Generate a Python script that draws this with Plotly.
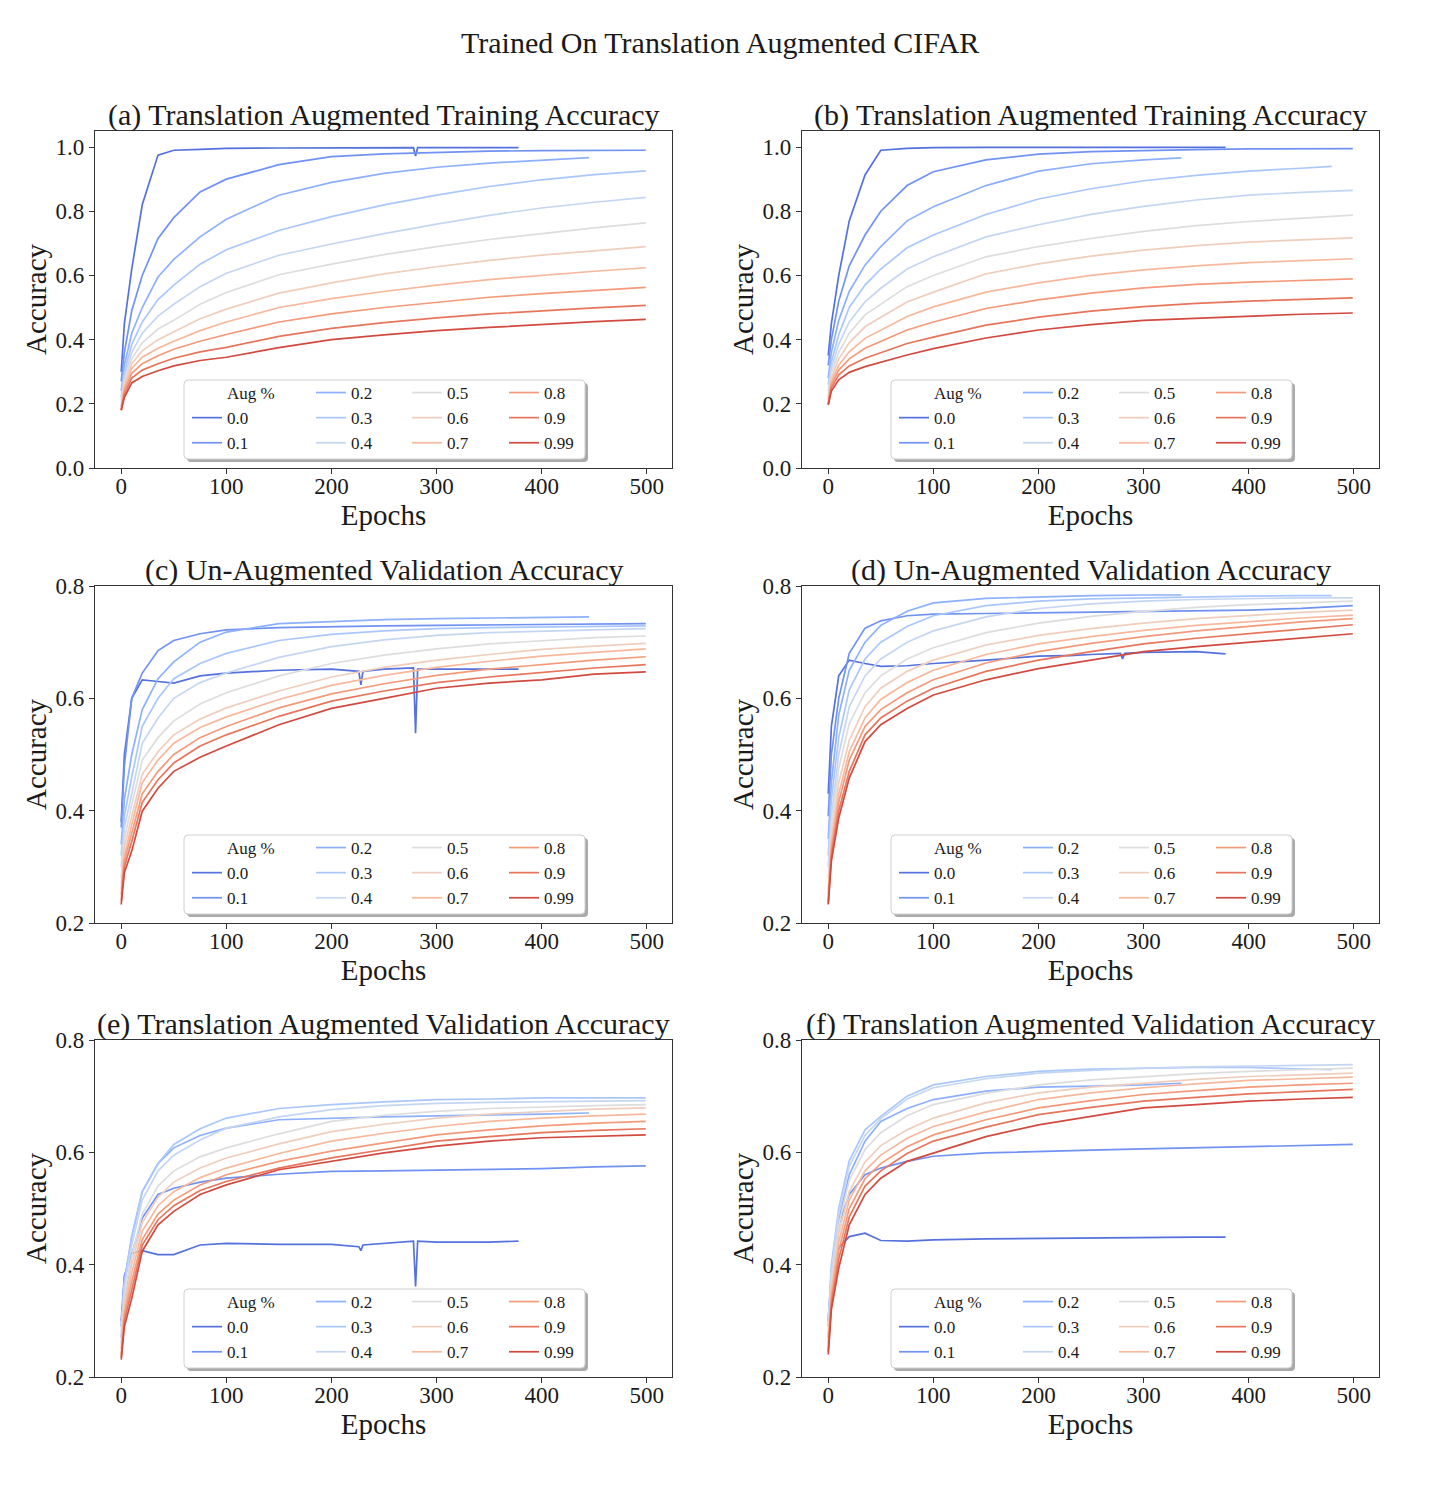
import plotly.graph_objects as go

# ---- data ----
AUG_LEVELS = ["0.0", "0.1", "0.2", "0.3", "0.4", "0.5", "0.6", "0.7", "0.8", "0.9", "0.99"]
LINE_COLORS = ["#5471de", "#7092f3", "#8db0fe", "#aac7fd", "#c5d6f2", "#dddddd",
               "#efcebd", "#f7b89c", "#f49a7b", "#e7755c", "#d24a3f"]

EPOCHS = [0, 3, 10, 20, 35, 50, 75, 100, 150, 200, 250, 300, 350, 400, 450, 499]
# the un-augmented run (0.0) stopped early and has a couple of sharp dips
EPOCHS_ZERO = [0, 3, 10, 20, 35, 50, 75, 100, 150, 200, 226, 228, 230, 250,
               278, 280, 282, 300, 350, 378]
# last epoch of each run (left column model / right column model)
STOP_LEFT = [378, 499, 445, 499, 499, 499, 499, 499, 499, 499, 499]
STOP_RIGHT = [378, 499, 336, 479, 499, 499, 499, 499, 499, 499, 499]

# (a) translation augmented training accuracy
TRAIN_LEFT = [
    [0.3, 0.45, 0.62, 0.82, 0.975, 0.99, 0.993, 0.996, 0.997, 0.998, 0.998, 0.998, 0.998, 0.998, 0.998, 0.972, 0.998, 0.998, 0.998, 0.998],
    [0.27, 0.36, 0.49, 0.6, 0.715, 0.78, 0.86, 0.9, 0.945, 0.97, 0.979, 0.984, 0.987, 0.989, 0.99, 0.99],
    [0.24, 0.32, 0.42, 0.5, 0.595, 0.65, 0.72, 0.775, 0.85, 0.89, 0.918, 0.937, 0.95, 0.959, 0.967],
    [0.22, 0.3, 0.385, 0.455, 0.525, 0.57, 0.635, 0.68, 0.74, 0.783, 0.82, 0.85, 0.877, 0.898, 0.914, 0.926],
    [0.21, 0.285, 0.36, 0.42, 0.473, 0.51, 0.565, 0.607, 0.663, 0.698, 0.73, 0.76, 0.787, 0.81, 0.828, 0.843],
    [0.2, 0.27, 0.34, 0.39, 0.433, 0.46, 0.51, 0.547, 0.602, 0.635, 0.665, 0.69, 0.712, 0.731, 0.748, 0.764],
    [0.19, 0.26, 0.325, 0.365, 0.4, 0.425, 0.465, 0.495, 0.545, 0.577, 0.605, 0.627, 0.647, 0.663, 0.677, 0.69],
    [0.19, 0.25, 0.31, 0.345, 0.373, 0.395, 0.428, 0.455, 0.5, 0.528, 0.55, 0.57, 0.587, 0.601, 0.613, 0.624],
    [0.18, 0.24, 0.295, 0.325, 0.35, 0.37, 0.395, 0.416, 0.455, 0.48, 0.5, 0.517, 0.532, 0.543, 0.553, 0.563],
    [0.18, 0.23, 0.28, 0.305, 0.325, 0.342, 0.362, 0.376, 0.41, 0.435, 0.453, 0.468, 0.48, 0.49, 0.499, 0.507],
    [0.18, 0.22, 0.265, 0.285, 0.303, 0.318, 0.335, 0.345, 0.375, 0.4, 0.415, 0.428, 0.438, 0.448, 0.456, 0.463],
]
# (b)
TRAIN_RIGHT = [
    [0.35, 0.45, 0.6, 0.77, 0.913, 0.99, 0.996, 0.998, 0.999, 0.999, 0.999, 0.999, 0.999, 0.999, 0.999, 0.999, 0.999, 0.999, 0.999, 0.999],
    [0.32, 0.4, 0.52, 0.63, 0.726, 0.8, 0.88, 0.923, 0.96, 0.978, 0.986, 0.99, 0.992, 0.994, 0.995, 0.995],
    [0.28, 0.36, 0.46, 0.55, 0.632, 0.69, 0.77, 0.814, 0.88, 0.925, 0.948, 0.96, 0.966],
    [0.26, 0.33, 0.415, 0.5, 0.57, 0.62, 0.686, 0.726, 0.79, 0.838, 0.87, 0.895, 0.912, 0.925, 0.934, 0.94],
    [0.24, 0.31, 0.385, 0.455, 0.518, 0.56, 0.62, 0.658, 0.72, 0.758, 0.79, 0.815, 0.835, 0.85, 0.859, 0.865],
    [0.23, 0.295, 0.36, 0.42, 0.477, 0.51, 0.565, 0.6, 0.658, 0.69, 0.715, 0.737, 0.755, 0.768, 0.779, 0.788],
    [0.22, 0.28, 0.34, 0.39, 0.44, 0.47, 0.517, 0.548, 0.605, 0.636, 0.66, 0.679, 0.693, 0.704, 0.711, 0.717],
    [0.21, 0.27, 0.32, 0.362, 0.404, 0.43, 0.472, 0.502, 0.548, 0.577, 0.6, 0.617, 0.63, 0.64, 0.647, 0.652],
    [0.2, 0.26, 0.305, 0.34, 0.373, 0.395, 0.43, 0.455, 0.497, 0.524, 0.545, 0.561, 0.572, 0.579, 0.584, 0.589],
    [0.2, 0.25, 0.29, 0.318, 0.342, 0.36, 0.388, 0.408, 0.445, 0.47, 0.489, 0.503, 0.513, 0.52, 0.525, 0.53],
    [0.196, 0.24, 0.275, 0.298, 0.316, 0.33, 0.352, 0.372, 0.405, 0.43, 0.447, 0.46, 0.467, 0.473, 0.479, 0.483],
]
# (c) un-augmented validation accuracy
UNAUG_VAL_LEFT = [
    [0.38, 0.5, 0.6, 0.633, 0.63, 0.627, 0.64, 0.645, 0.65, 0.652, 0.648, 0.624, 0.648, 0.652, 0.654, 0.538, 0.652, 0.652, 0.652, 0.652],
    [0.37, 0.48, 0.6, 0.645, 0.685, 0.703, 0.715, 0.722, 0.726, 0.728, 0.729, 0.73, 0.731, 0.732, 0.733, 0.733],
    [0.34, 0.42, 0.5, 0.58, 0.635, 0.665, 0.7, 0.718, 0.733, 0.737, 0.74, 0.742, 0.743, 0.744, 0.745],
    [0.32, 0.39, 0.46, 0.55, 0.6, 0.635, 0.662, 0.68, 0.703, 0.714, 0.72, 0.724, 0.726, 0.727, 0.728, 0.729],
    [0.3, 0.37, 0.43, 0.52, 0.565, 0.6, 0.628, 0.645, 0.673, 0.692, 0.704, 0.712, 0.717, 0.72, 0.722, 0.724],
    [0.28, 0.35, 0.41, 0.49, 0.53, 0.56, 0.59, 0.61, 0.64, 0.662, 0.677, 0.688, 0.697, 0.703, 0.708, 0.711],
    [0.27, 0.335, 0.39, 0.465, 0.505, 0.535, 0.563, 0.583, 0.613, 0.638, 0.655, 0.668, 0.678, 0.687, 0.693, 0.698],
    [0.26, 0.32, 0.375, 0.45, 0.49, 0.52, 0.548, 0.567, 0.598, 0.623, 0.641, 0.655, 0.666, 0.675, 0.682, 0.688],
    [0.25, 0.31, 0.36, 0.43, 0.47, 0.5, 0.53, 0.55, 0.583, 0.608, 0.626, 0.641, 0.652, 0.66, 0.668, 0.674],
    [0.24, 0.3, 0.345, 0.415, 0.455, 0.485, 0.515, 0.535, 0.568, 0.595, 0.613, 0.628, 0.638, 0.646, 0.654, 0.66],
    [0.233, 0.29, 0.328, 0.399, 0.44, 0.47, 0.495, 0.515, 0.553, 0.582, 0.6, 0.618, 0.627, 0.633, 0.643, 0.647],
]
# (d)
UNAUG_VAL_RIGHT = [
    [0.43, 0.55, 0.64, 0.668, 0.662, 0.657, 0.658, 0.662, 0.668, 0.675, 0.676, 0.676, 0.676, 0.678, 0.68, 0.67, 0.68, 0.682, 0.683, 0.679],
    [0.39, 0.5, 0.6, 0.68, 0.725, 0.738, 0.747, 0.75, 0.751, 0.752, 0.753, 0.755, 0.756, 0.757, 0.76, 0.765],
    [0.35, 0.45, 0.57, 0.65, 0.7, 0.73, 0.755, 0.77, 0.778, 0.781, 0.783, 0.784, 0.784],
    [0.32, 0.42, 0.53, 0.615, 0.67, 0.7, 0.728, 0.747, 0.765, 0.773, 0.777, 0.779, 0.781, 0.782, 0.783, 0.783],
    [0.3, 0.39, 0.5, 0.585, 0.64, 0.67, 0.7, 0.72, 0.745, 0.76, 0.768, 0.773, 0.776, 0.778, 0.779, 0.779],
    [0.28, 0.37, 0.475, 0.555, 0.61, 0.64, 0.67, 0.69, 0.717, 0.734, 0.746, 0.755, 0.762, 0.767, 0.77, 0.773],
    [0.26, 0.35, 0.45, 0.525, 0.585, 0.618, 0.648, 0.668, 0.695, 0.712, 0.724, 0.734, 0.742, 0.748, 0.753, 0.757],
    [0.25, 0.34, 0.43, 0.505, 0.565, 0.598, 0.628, 0.65, 0.678, 0.697, 0.71, 0.721, 0.73, 0.737, 0.743, 0.748],
    [0.24, 0.33, 0.415, 0.49, 0.55, 0.58, 0.61, 0.633, 0.663, 0.683, 0.698, 0.71, 0.72, 0.728, 0.736, 0.742],
    [0.235, 0.32, 0.4, 0.47, 0.535, 0.565, 0.595, 0.618, 0.648, 0.668, 0.683, 0.697, 0.707, 0.715, 0.724, 0.731],
    [0.233, 0.31, 0.387, 0.458, 0.523, 0.553, 0.582, 0.606, 0.633, 0.653, 0.668, 0.683, 0.692, 0.7, 0.708, 0.715],
]
# (e) translation augmented validation accuracy
AUG_VAL_LEFT = [
    [0.3, 0.38, 0.42, 0.425, 0.418, 0.418, 0.435, 0.438, 0.436, 0.436, 0.432, 0.425, 0.435, 0.438, 0.442, 0.361, 0.442, 0.44, 0.44, 0.442],
    [0.27, 0.33, 0.418, 0.483, 0.525, 0.536, 0.547, 0.554, 0.561, 0.566, 0.567, 0.568, 0.569, 0.571, 0.574, 0.576],
    [0.29, 0.37, 0.45, 0.53, 0.58, 0.608, 0.63, 0.643, 0.658, 0.661, 0.663, 0.665, 0.666, 0.668, 0.67],
    [0.29, 0.37, 0.45, 0.53, 0.58, 0.614, 0.642, 0.661, 0.678, 0.685, 0.69, 0.694, 0.695, 0.697, 0.697, 0.697],
    [0.28, 0.36, 0.435, 0.515, 0.567, 0.595, 0.622, 0.643, 0.663, 0.676, 0.683, 0.687, 0.689, 0.69, 0.691, 0.692],
    [0.27, 0.345, 0.415, 0.49, 0.54, 0.567, 0.592, 0.608, 0.633, 0.655, 0.666, 0.673, 0.678, 0.681, 0.683, 0.685],
    [0.26, 0.33, 0.4, 0.475, 0.52, 0.547, 0.572, 0.59, 0.615, 0.637, 0.65, 0.661, 0.668, 0.673, 0.677, 0.679],
    [0.25, 0.32, 0.385, 0.46, 0.505, 0.53, 0.555, 0.572, 0.598, 0.62, 0.634, 0.646, 0.655, 0.661, 0.665, 0.668],
    [0.24, 0.31, 0.37, 0.445, 0.49, 0.515, 0.542, 0.56, 0.584, 0.602, 0.617, 0.631, 0.64, 0.647, 0.652, 0.655],
    [0.235, 0.3, 0.355, 0.435, 0.48, 0.505, 0.532, 0.548, 0.572, 0.59, 0.605, 0.62, 0.628, 0.635, 0.639, 0.642],
    [0.231, 0.29, 0.34, 0.424, 0.471, 0.495, 0.525, 0.542, 0.569, 0.584, 0.599, 0.611, 0.62, 0.626, 0.628, 0.631],
]
# (f)
AUG_VAL_RIGHT = [
    [0.3, 0.38, 0.43, 0.45, 0.456, 0.443, 0.442, 0.444, 0.446, 0.447, 0.447, 0.447, 0.447, 0.448, 0.448, 0.448, 0.448, 0.449, 0.449, 0.449],
    [0.27, 0.36, 0.471, 0.525, 0.56, 0.572, 0.584, 0.593, 0.599, 0.602, 0.604, 0.606, 0.608, 0.611, 0.613, 0.614],
    [0.29, 0.39, 0.48, 0.56, 0.62, 0.655, 0.678, 0.694, 0.709, 0.716, 0.718, 0.72, 0.723],
    [0.3, 0.4, 0.5, 0.585, 0.64, 0.664, 0.7, 0.72, 0.735, 0.744, 0.748, 0.75, 0.751, 0.751, 0.749, 0.747],
    [0.29, 0.39, 0.49, 0.575, 0.63, 0.66, 0.695, 0.715, 0.731, 0.741, 0.746, 0.75, 0.752, 0.754, 0.755, 0.756],
    [0.28, 0.37, 0.47, 0.55, 0.605, 0.635, 0.665, 0.685, 0.705, 0.72, 0.729, 0.735, 0.74, 0.744, 0.747, 0.75],
    [0.27, 0.36, 0.455, 0.53, 0.583, 0.612, 0.64, 0.661, 0.688, 0.706, 0.716, 0.723, 0.73, 0.735, 0.738, 0.741],
    [0.26, 0.35, 0.44, 0.515, 0.567, 0.595, 0.625, 0.646, 0.672, 0.694, 0.706, 0.715, 0.722, 0.728, 0.731, 0.734],
    [0.25, 0.34, 0.425, 0.5, 0.553, 0.58, 0.61, 0.631, 0.658, 0.679, 0.692, 0.703, 0.71, 0.716, 0.72, 0.723],
    [0.245, 0.33, 0.41, 0.485, 0.54, 0.567, 0.598, 0.62, 0.645, 0.667, 0.68, 0.691, 0.698, 0.704, 0.708, 0.712],
    [0.24, 0.32, 0.394, 0.471, 0.525, 0.554, 0.584, 0.599, 0.628, 0.649, 0.664, 0.679, 0.685, 0.691, 0.695, 0.698],
]

PANEL_TITLES = [
    "(a) Translation Augmented Training Accuracy",
    "(b) Translation Augmented Training Accuracy",
    "(c) Un-Augmented Validation Accuracy",
    "(d) Un-Augmented Validation Accuracy",
    "(e) Translation Augmented Validation Accuracy",
    "(f) Translation Augmented Validation Accuracy",
]
SUPTITLE = "Trained On Translation Augmented CIFAR"
Y_RANGES = [[0, 1.05], [0.2, 0.8], [0.2, 0.8]]
Y_TICKS = [[0.0, 0.2, 0.4, 0.6, 0.8, 1.0], [0.2, 0.4, 0.6, 0.8], [0.2, 0.4, 0.6, 0.8]]
X_TICKS = [0, 100, 200, 300, 400, 500]

PANELS = [TRAIN_LEFT, TRAIN_RIGHT, UNAUG_VAL_LEFT, UNAUG_VAL_RIGHT, AUG_VAL_LEFT, AUG_VAL_RIGHT]

# ---- layout geometry (pixels in the final screenshot) ----
W, H = 1440, 1512
PAGE_PAD = 8  # the browser's default body margin shifts the figure
COL_LEFT = [95, 802]
ROW_TOP = [131, 586, 1040]
AX_W, AX_H = 577, 337
FONT = "Liberation Serif"
TEXT = "#1a1a1a"
FRAME = "#333333"


def fx(px):
    return (px - PAGE_PAD) / W


def fy(py):
    return 1 - (py - PAGE_PAD) / H


def rounded_box(x0, y0, x1, y1, r):
    return (f"M {fx(x0 + r)},{fy(y0)} L {fx(x1 - r)},{fy(y0)} "
            f"Q {fx(x1)},{fy(y0)} {fx(x1)},{fy(y0 + r)} L {fx(x1)},{fy(y1 - r)} "
            f"Q {fx(x1)},{fy(y1)} {fx(x1 - r)},{fy(y1)} L {fx(x0 + r)},{fy(y1)} "
            f"Q {fx(x0)},{fy(y1)} {fx(x0)},{fy(y1 - r)} L {fx(x0)},{fy(y0 + r)} "
            f"Q {fx(x0)},{fy(y0)} {fx(x0 + r)},{fy(y0)} Z")


fig = go.Figure()
layout = dict(
    width=W, height=H, template="none",
    margin=dict(l=0, r=0, t=0, b=0),
    paper_bgcolor="white", plot_bgcolor="white",
    font=dict(family=FONT, color=TEXT),
    showlegend=True,
)
shapes = []
annotations = [dict(text=SUPTITLE, x=fx(720), y=fy(43), xref="paper", yref="paper",
                    showarrow=False, xanchor="center", yanchor="middle",
                    font=dict(size=30, family=FONT, color=TEXT))]

LEGEND_COLS = [[None, 0, 1], [2, 3, 4], [5, 6, 7], [8, 9, 10]]
LEGEND_OFFSETS = [97, 221, 317, 414]

for p, panel in enumerate(PANELS):
    row, col = divmod(p, 2)
    left, top = COL_LEFT[col], ROW_TOP[row]
    bottom = top + AX_H
    stops = STOP_LEFT if col == 0 else STOP_RIGHT
    ax = "" if p == 0 else str(p + 1)

    # which legend (column) each series goes into
    leg_of = {}
    for c, members in enumerate(LEGEND_COLS):
        lid = p * 4 + c + 1
        name = "legend" if lid == 1 else f"legend{lid}"
        for m in members:
            leg_of[m] = name
        layout[name] = dict(
            x=fx(left + LEGEND_OFFSETS[c] - 5), y=fy(bottom - 93),
            xanchor="left", yanchor="top", orientation="v",
            bgcolor="rgba(0,0,0,0)", borderwidth=0, itemwidth=30,
            font=dict(size=17, family=FONT, color=TEXT),
        )

    # header entry "Aug %" with an empty handle
    fig.add_trace(go.Scatter(x=[None], y=[None], mode="lines", name="Aug %",
                             line=dict(color="rgba(0,0,0,0)", width=2),
                             xaxis="x" + ax, yaxis="y" + ax, legend=leg_of[None],
                             hoverinfo="skip"))

    for i, level in enumerate(AUG_LEVELS):
        if i == 0:
            xs = EPOCHS_ZERO
        else:
            xs = [e for e in EPOCHS if e < stops[i]] + [stops[i]]
        fig.add_trace(go.Scatter(
            x=xs, y=panel[i], mode="lines", name=level,
            line=dict(color=LINE_COLORS[i], width=1.7),
            xaxis="x" + ax, yaxis="y" + ax, legend=leg_of[i],
        ))

    common = dict(showline=True, mirror=True, linecolor=FRAME, linewidth=1.2,
                  ticks="outside", ticklen=5, tickwidth=1.2, tickcolor=FRAME,
                  showgrid=False, zeroline=False,
                  tickfont=dict(size=23, family=FONT, color=TEXT))
    layout["xaxis" + ax] = dict(
        common, domain=[fx(left), fx(left + AX_W)], anchor="y" + ax,
        range=[-24.95, 523.95], tickvals=X_TICKS, ticklabelstandoff=-8,
        title=dict(text="Epochs", font=dict(size=29, family=FONT, color=TEXT), standoff=3),
    )
    layout["yaxis" + ax] = dict(
        common, domain=[fy(bottom), fy(top)], anchor="x" + ax,
        range=Y_RANGES[row], tickvals=Y_TICKS[row], tickformat=".1f",
        title=dict(text="Accuracy", font=dict(size=29, family=FONT, color=TEXT), standoff=0),
    )

    annotations.append(dict(text=PANEL_TITLES[p], x=fx(left + AX_W / 2), y=fy(top + 3),
                            xref="paper", yref="paper", showarrow=False,
                            xanchor="center", yanchor="bottom",
                            font=dict(size=30, family=FONT, color=TEXT)))

    # legend frame with shadow
    bx0, bx1 = left + 89, left + 490
    by0, by1 = bottom - 88, bottom - 9
    shapes.append(dict(type="path", xref="paper", yref="paper", layer="above",
                       path=rounded_box(bx0 + 3, by0 + 3, bx1 + 3, by1 + 3, 4),
                       fillcolor="rgba(100,100,100,0.55)", line=dict(width=0)))
    shapes.append(dict(type="path", xref="paper", yref="paper", layer="above",
                       path=rounded_box(bx0, by0, bx1, by1, 4),
                       fillcolor="white", line=dict(color="#d0d0d0", width=1)))

layout["shapes"] = shapes
layout["annotations"] = annotations
fig.update_layout(**layout)

fig.write_html("out.html")
